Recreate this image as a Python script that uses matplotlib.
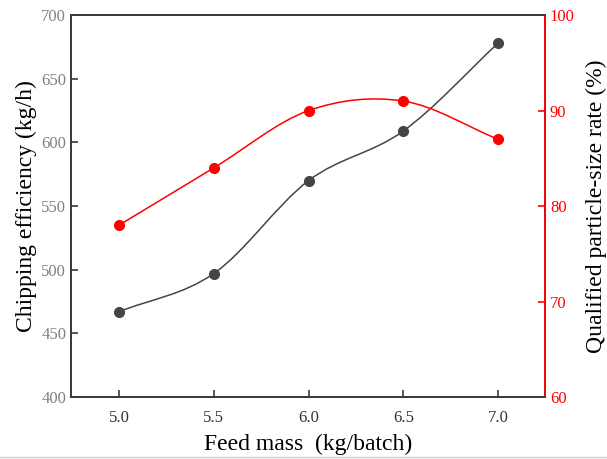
import matplotlib.pyplot as plt
import numpy as np
from matplotlib.path import Path
from matplotlib.patches import PathPatch
from matplotlib.lines import Line2D

feed = [5.0, 5.5, 6.0, 6.5, 7.0]
efficiency = [467, 497, 570, 609, 678]
qualified = [78, 84, 90, 91, 87]
xticks = [5.0, 5.5, 6.0, 6.5, 7.0]
xticklabels = ['5.0', '5.5', '6.0', '6.5', '7.0']

DARK = '#454545'
RED = '#ff0000'
SERIF = 'Liberation Serif'


def smooth_path(x, y):
    # cubic bezier through the points (catmull-rom tangents)
    x = np.asarray(x, float)
    y = np.asarray(y, float)
    n = len(x)
    m = np.zeros(n)
    m[0] = y[1] - y[0]
    m[-1] = y[-1] - y[-2]
    m[1:-1] = (y[2:] - y[:-2]) / 2
    verts = [(x[0], y[0])]
    codes = [Path.MOVETO]
    for i in range(n - 1):
        dx = x[i + 1] - x[i]
        verts += [(x[i] + dx / 3, y[i] + m[i] / 3),
                  (x[i + 1] - dx / 3, y[i + 1] - m[i + 1] / 3),
                  (x[i + 1], y[i + 1])]
        codes += [Path.CURVE4] * 3
    return Path(verts, codes)


fig, ax = plt.subplots(figsize=(6.07, 4.59), dpi=100)
fig.subplots_adjust(left=0.117, right=0.898, top=0.967, bottom=0.135)
ax2 = ax.twinx()

ax.add_patch(PathPatch(smooth_path(feed, efficiency), facecolor='none',
                       edgecolor=DARK, linewidth=1.1, zorder=2))
ax.plot(feed, efficiency, 'o', color=DARK, markersize=7, zorder=3)

ax2.add_patch(PathPatch(smooth_path(feed, qualified), facecolor='none',
                        edgecolor=RED, linewidth=1.1, zorder=2))
ax2.plot(feed, qualified, 'o', color=RED, markersize=7, zorder=3)

ax.set_xlim(4.747, 7.248)
ax.set_ylim(400, 700)
ax2.set_ylim(60, 100)

ax.set_xticks(xticks)
ax.set_xticklabels(xticklabels, fontfamily=SERIF, fontsize=12, color='#333333')
ax.set_yticks([400, 450, 500, 550, 600, 650, 700])
ax.tick_params(axis='y', labelsize=12, labelcolor='#808080', labelfontfamily=SERIF)
ax2.set_yticks([60, 70, 80, 90, 100])
ax2.tick_params(axis='y', labelsize=12, labelcolor=RED, color=RED,
                labelfontfamily=SERIF)

for a in (ax, ax2):
    a.tick_params(direction='in', length=5, width=1.2)
    for s in a.spines.values():
        s.set_linewidth(1.3)
        s.set_color('#3a3a3a')
ax2.spines['right'].set_color(RED)
ax.tick_params(colors='#3a3a3a', which='both')
ax.tick_params(axis='y', labelcolor='#808080')
ax.tick_params(axis='x', labelcolor='#333333', pad=9)

ax.set_xlabel('Feed mass  (kg/batch)', fontfamily=SERIF, fontsize=17, labelpad=6)
ax.set_ylabel('Chipping efficiency (kg/h)', fontfamily=SERIF, fontsize=17, labelpad=3)
ax2.set_ylabel('Qualified particle-size rate (%)', fontfamily=SERIF, fontsize=17,
               labelpad=8)

fig.add_artist(Line2D([0, 1], [0.005, 0.005], color='#cccccc', linewidth=1))

fig.savefig('out.png', dpi=100)
